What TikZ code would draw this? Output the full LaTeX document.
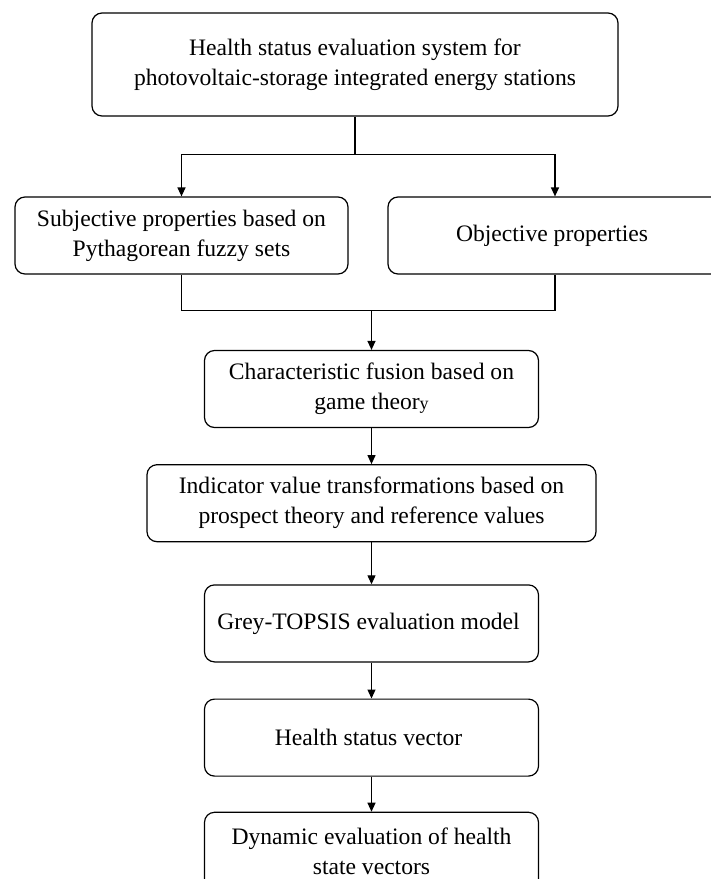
\documentclass[tikz,border=0pt]{standalone}
\usepackage{fontspec}
\setmainfont{Liberation Serif}
\usepackage{tikz}
\usetikzlibrary{arrows.meta,positioning}
\tikzset{
  block/.style={shape=rectangle,draw,rounded corners=10pt,align=center,
    minimum width=334pt,minimum height=77pt,inner sep=4pt}
}

\begin{document}
\begin{tikzpicture}[x=1pt,y=-1pt,line width=1.2pt,>={Triangle[length=9pt,width=8pt]},
    font=\fontsize{23.6}{30}\selectfont]
					\useasboundingbox (0,0) rectangle (711,879);
					\clip (0,0) rectangle (711,879);
					\node (system) [block,minimum width=526pt,minimum height=103pt] at (355,64.5) {
						Health status evaluation system for\\
						photovoltaic-storage integrated energy stations
					};
					\node (subjective) [block,minimum width=333pt] at (181.5,235.5) {
						Subjective properties based on\\
						Pythagorean fuzzy sets
					};
					\node (objective) [block] at (555,235.5) {
						Objective properties
					};
					\node (fusion) [block] at (371.5,389) {
						Characteristic fusion based on\\
						game theor{\fontsize{18}{30}\selectfont y}
					};
					\node (indicator) [block,minimum width=449pt] [below=36pt of fusion] {
						Indicator value transformations based on\\
						prospect theory and reference values
					};
					\node (grey) [block] [below=42pt of indicator] {
						Grey-TOPSIS evaluation model
					};
					\node (vector) [block] [below=36pt of grey] {
						Health status vector
					};
					\node (dynamic) [block] [below=35pt of vector] {
						Dynamic evaluation of health\\
						state vectors
					};

					\coordinate (split) at ([yshift=-38pt]system.south);
					\coordinate (merge) at ([yshift=-36pt]subjective.south);

					\draw (system.south) -- (split);
					\draw[->] (split) -| (subjective);
					\draw[->] (split) -| (objective);
					\draw (subjective.south) -- (merge) -| (objective.south);
					\draw[->] (merge -| fusion.north) -- (fusion);
					\path[->] (fusion) edge (indicator);
					\path[->] (indicator) edge (grey);
					\path[->] (grey) edge (vector);
					\path[->] (vector) edge (dynamic);
				\end{tikzpicture}
\end{document}
